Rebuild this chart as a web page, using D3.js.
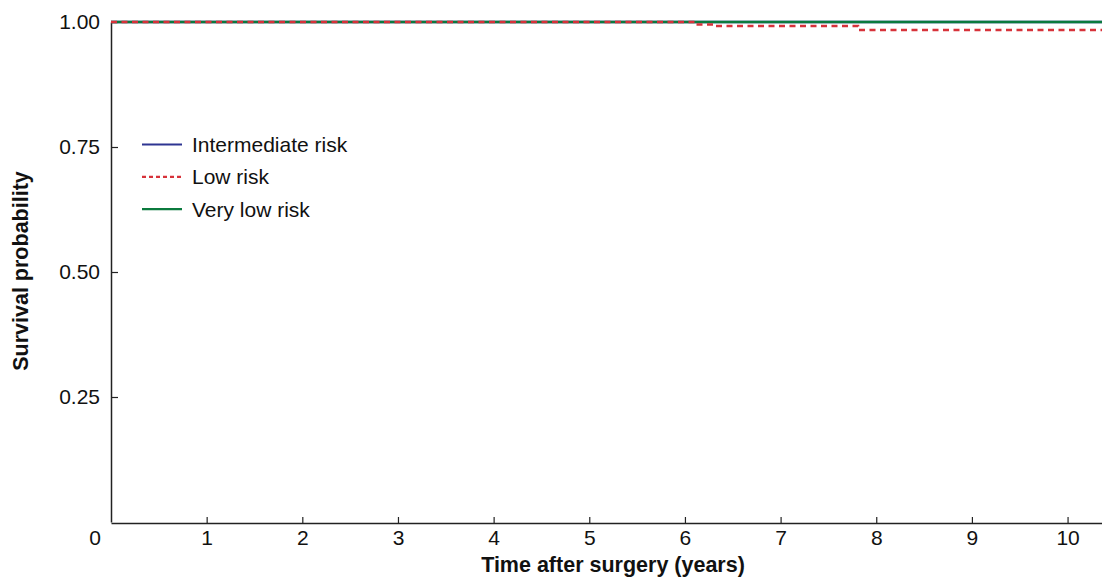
<!DOCTYPE html>
<html>
<head>
<meta charset="utf-8">
<script src="https://cdn.jsdelivr.net/npm/d3@7"></script>
<style>
  body { margin: 0; background: #fff; }
  svg text { font-family: "Liberation Sans", Arial, sans-serif; fill: #111; }
</style>
</head>
<body>
<svg id="chart" width="1102" height="578"></svg>
<script>
// series: Kaplan-Meier steps (time in years, survival)
var series_names = ["Intermediate risk", "Low risk", "Very low risk"];
var intermediate_t = [0, 10.36],
    intermediate_s = [1.0, 1.0];
var low_t = [0, 6.12, 6.31, 7.81, 10.36],
    low_s = [1.0, 0.995, 0.992, 0.984, 0.984];
var verylow_t = [0, 10.36],
    verylow_s = [1.0, 1.0];
var x_ticks = [1, 2, 3, 4, 5, 6, 7, 8, 9, 10];
var y_ticks = [0.25, 0.5, 0.75, 1.0];

var FS = 21, TS = 21.5;
var svg = d3.select("#chart");
var x = d3.scaleLinear().domain([0, 10.36]).range([111, 1102]);
var y = d3.scaleLinear().domain([0, 1]).range([522, 22]);

/* axes */
var xAxis = svg.append("g").attr("transform", "translate(0,523)")
  .call(d3.axisBottom(x).tickValues(x_ticks).tickSizeInner(-6).tickSizeOuter(0).tickPadding(7));
var yAxis = svg.append("g").attr("transform", "translate(111,0)")
  .call(d3.axisLeft(y).tickValues(y_ticks).tickSizeInner(-7).tickSizeOuter(0).tickPadding(11)
    .tickFormat(d3.format(".2f")));
[xAxis, yAxis].forEach(function(a) {
  a.attr("font-size", FS).attr("font-family", "Liberation Sans, Arial, sans-serif");
  a.select(".domain").attr("stroke", "#222").attr("stroke-width", 1.5);
  a.selectAll(".tick line").attr("stroke", "#222").attr("stroke-width", 1.2);
  a.selectAll(".tick text").attr("fill", "#111");
});

// origin label
svg.append("text").attr("x", 95).attr("y", 545).attr("text-anchor", "middle")
  .attr("font-size", FS).text("0");

svg.append("text").attr("x", 613).attr("y", 572).attr("text-anchor", "middle")
  .attr("font-size", TS).attr("font-weight", "bold").text("Time after surgery (years)");
svg.append("text").attr("transform", "translate(28,271) rotate(-90)").attr("text-anchor", "middle")
  .attr("font-size", TS).attr("font-weight", "bold").text("Survival probability");

/* curves */
function pairs(ts, ss) {
  return ts.map(function(t, i) { return [t, ss[i]]; });
}
var line = d3.line()
  .x(function(d) { return x(d[0]); })
  .y(function(d) { return y(d[1]); })
  .curve(d3.curveStepAfter);

var curves = [
  {data: pairs(intermediate_t, intermediate_s), color: "#2e3592", dash: null},
  {data: pairs(verylow_t, verylow_s), color: "#0b7a3e", dash: null},
  {data: pairs(low_t, low_s), color: "#d7323a", dash: "6,4.5"}
];
curves.forEach(function(c) {
  svg.append("path").attr("d", line(c.data))
    .attr("fill", "none").attr("stroke", c.color).attr("stroke-width", 2.4)
    .attr("stroke-dasharray", c.dash);
});

/* legend */
var legend = [
  {name: series_names[0], color: "#2e3592", dash: null},
  {name: series_names[1], color: "#d7323a", dash: "4,3"},
  {name: series_names[2], color: "#0b7a3e", dash: null}
];
legend.forEach(function(l, i) {
  var ly = 144.5 + i * 32.3;
  svg.append("line").attr("x1", 142).attr("x2", 182).attr("y1", ly).attr("y2", ly)
    .attr("stroke", l.color).attr("stroke-width", 2.2).attr("stroke-dasharray", l.dash);
  svg.append("text").attr("x", 192).attr("y", ly + 7.5).attr("font-size", FS).text(l.name);
});
</script>
</body>
</html>
